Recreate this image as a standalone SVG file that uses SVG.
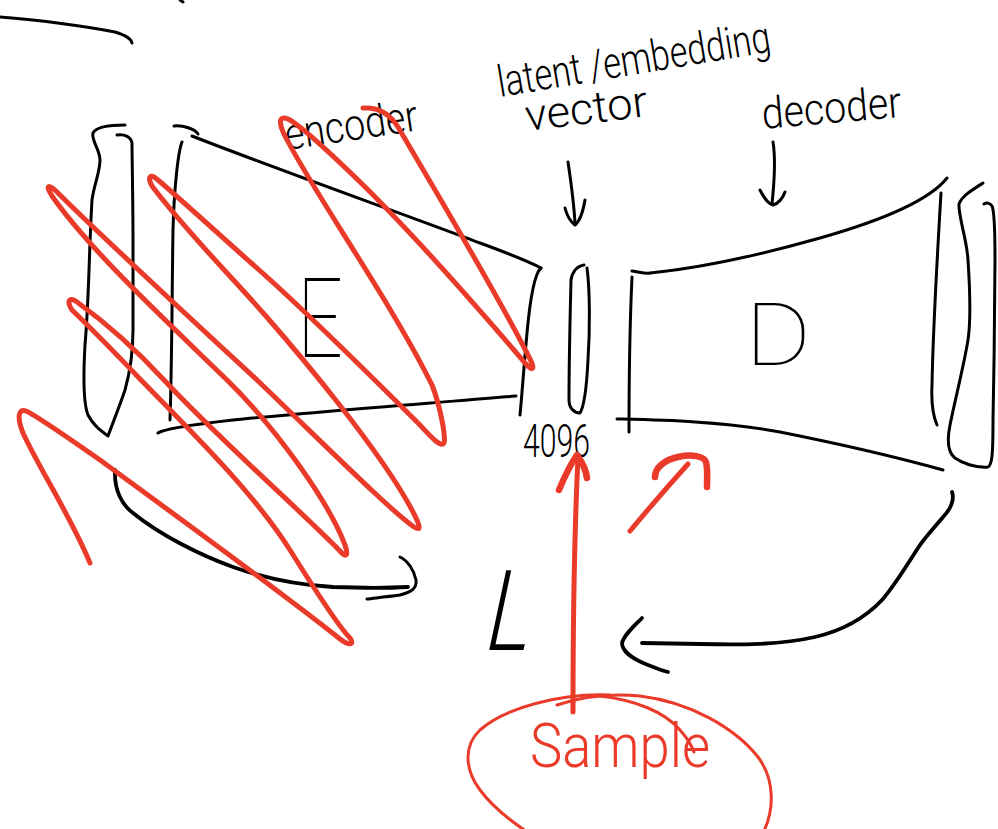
<svg xmlns="http://www.w3.org/2000/svg" width="998" height="829" viewBox="0 0 998 829">
  <style>
    .ink { fill: none; stroke: #000; stroke-width: 3; stroke-linecap: round; stroke-linejoin: round; }
    .ink-thick { fill: none; stroke: #000; stroke-width: 3.8; stroke-linecap: round; stroke-linejoin: round; }
    .red { fill: none; stroke: #ea3a29; stroke-width: 5; stroke-linecap: round; stroke-linejoin: round; }
    .red-head { fill: none; stroke: #ea3a29; stroke-width: 6.5; stroke-linecap: round; stroke-linejoin: round; }
    .red-thin { fill: none; stroke: #ea3a29; stroke-width: 3; stroke-linecap: round; stroke-linejoin: round; }
    .hand { font-family: Roboto, "Liberation Sans", sans-serif; fill: #000; }
    .thin { font-weight: 100; }
    .light { font-weight: 300; }
  </style>
  <rect width="998" height="829" fill="#fff"/>

  <!-- stray strokes at the top left -->
  <g id="stray">
    <path class="ink" d="M0,17 C40,20 90,27 115,32 C125,35 131,38 132,43"/>
    <path class="ink" d="M180,0 L183,2"/>
  </g>

  <!-- encoder block: input slab and trapezoid -->
  <g id="encoder">
    <path class="ink" d="M125,125 C110,125 96,127 93,133 C91,140 100,150 100,160 C100,172 94,185 92,200 C89,250 89,300 85,345 C83,380 84,405 88,415 C93,425 100,430 108,436 C112,425 120,405 125,390 C130,372 133,355 133,330 L133,240 C133,200 132,160 132,143 C131,137 125,134 117,135"/>
    <path class="ink" d="M174,126 C183,125 195,129 198,134"/>
    <path class="ink" d="M182,142 C178,152 174,190 173,230 C172,290 172,360 170,420"/>
    <path class="ink" d="M192,136 C260,163 420,220 480,243 C510,254 530,262 541,268"/>
    <path class="ink" d="M541,268 C534,274 530,300 527,333 C524,365 522,395 520,415"/>
    <path class="ink" d="M158,433 C162,430 180,426 233,420 C300,413 420,404 516,396"/>
    <text class="hand thin" x="297" y="357" font-size="112" textLength="46" lengthAdjust="spacingAndGlyphs">E</text>
  </g>

  <!-- latent / embedding vector -->
  <g id="latent">
    <path class="ink" d="M584,265 C577,266 572,272 571,280 C570,320 569,370 569,400 C569,408 574,413 580,413 C585,405 587,380 588,360 C590,330 590,290 587,268"/>
    <text class="hand light" x="523" y="457" font-size="46" textLength="67" lengthAdjust="spacingAndGlyphs">4096</text>
  </g>

  <!-- decoder block: trapezoid and output slab -->
  <g id="decoder">
    <path class="ink" d="M632,271 C640,272 645,274 650,273 C700,268 760,255 820,238 C880,221 928,202 947,178"/>
    <path class="ink" d="M632,277 C630,320 629,380 629,432"/>
    <path class="ink" d="M617,419 C660,420 720,421 780,432 C840,444 900,458 943,470"/>
    <path class="ink" d="M941,193 C937,260 933,330 932,385 C931,405 934,418 937,425"/>
    <path class="ink" d="M983,183 C972,190 962,196 959,204 C958,215 967,240 968,260 C970,290 971,320 968,340 C964,365 955,400 950,425 C947,440 947,452 955,458 C962,463 975,468 988,467 C992,465 993,455 993,420 C994,370 995,300 995,260 C995,235 994,210 992,206 C990,203 986,202 984,204"/>
    <text class="hand thin" x="745" y="365" font-size="87" textLength="66" lengthAdjust="spacingAndGlyphs">D</text>
  </g>

  <!-- labels with pointer arrows -->
  <g id="labels">
    <text class="hand light" x="287" y="150" font-size="44" textLength="134" lengthAdjust="spacingAndGlyphs" transform="rotate(-8.5 287 150)">encoder</text>
    <text class="hand light" x="500" y="97" font-size="44" textLength="276" lengthAdjust="spacingAndGlyphs" transform="rotate(-9.5 500 97)">latent /embedding</text>
    <text class="hand light" x="527" y="131" font-size="44" textLength="123" lengthAdjust="spacingAndGlyphs" transform="rotate(-7 527 131)">vector</text>
    <text class="hand light" x="763" y="129" font-size="44" textLength="140" lengthAdjust="spacingAndGlyphs" transform="rotate(-5 763 129)">decoder</text>
  </g>

  <g id="connectors">
    <!-- label pointers -->
    <path class="ink" d="M568,162 C571,182 574,203 575,224"/>
    <path class="ink" d="M565,208 C567,216 571,222 575,225 C580,221 583,212 585,200"/>
    <path class="ink" d="M773,142 C776,160 774,185 772,204"/>
    <path class="ink" d="M760,190 C764,198 769,204 773,205 C778,204 783,198 785,192"/>
    <!-- reconstruction loss arrows -->
    <path class="ink-thick" d="M115,470 C114,490 122,505 133,513 C160,535 200,555 233,567 C270,580 300,585 333,587 C360,588 390,588 408,587"/>
    <path class="ink" d="M400,557 C408,561 414,570 416,580 C417,588 412,592 400,595 C385,597 375,598 367,599"/>
    <path class="ink-thick" d="M952,492 C955,500 950,510 943,517 C935,527 925,537 918,548 C905,568 895,585 882,600 C865,618 845,630 815,637 C780,645 740,645 700,644 L642,643"/>
    <path class="ink-thick" d="M642,618 C633,627 624,635 622,643 C622,652 635,660 648,665 C658,669 664,671 668,672"/>
  </g>

  <!-- loss symbol -->
  <g id="loss">
    <text class="hand light" x="482" y="650" font-size="112" textLength="44" lengthAdjust="spacingAndGlyphs" transform="skewX(-12) translate(138 0)">L</text>
  </g>

  <!-- red annotations: scribble over encoder, sampling -->
  <g id="scribble">
    <path class="red" d="M363,108 C379,107 390,114 398,127 C432,185 495,290 529,357 C535,368 534,373 526,364 C490,322 420,240 358,180 C325,148 300,125 288,119 C278,115 279,124 285,136 C315,195 390,300 432,385 C440,405 446,437 444,443 C441,448 432,438 420,425 C395,400 300,305 250,262 C210,226 170,190 158,180 C150,173 147,177 152,186 C185,230 230,275 265,315 C300,355 380,450 412,510 C420,525 422,532 414,527 C390,510 330,450 257,380 C190,318 100,235 58,193 C48,183 45,185 52,196 C90,250 160,315 227,380 C280,432 330,505 345,545 C349,556 346,558 340,551 C300,510 220,440 164,380 C130,343 95,315 77,302 C68,296 67,302 72,310 C95,332 120,358 141,380 C200,440 255,495 290,550 C315,590 340,628 350,638 C355,645 349,646 340,639 C300,607 200,533 100,460 C60,432 35,415 26,411 C18,408 17,418 23,433 C40,470 70,515 90,563"/>
  </g>

  <g id="sample">
    <path class="red" d="M573,712 C573,620 575,520 578,457"/>
    <path class="red-head" d="M559,490 C564,478 570,465 577,455 C582,462 586,470 587,478"/>
    <path class="red" d="M630,531 C650,507 670,484 688,464"/>
    <path class="red-head" d="M655,477 C655,468 664,460 678,457 C692,454 704,456 706,462 C708,470 707,480 707,487"/>
    <path class="red-thin" d="M557,705 C580,697 610,693 640,696 C690,702 735,728 758,757 C775,780 775,810 762,835"/>
    <path class="red-thin" d="M610,695 C560,693 505,708 480,730 C463,746 465,770 480,790 C495,810 515,825 540,840"/>
    <path class="red-thin" d="M600,696 C635,700 665,712 680,730 C687,738 692,746 694,752"/>
    <text x="530" y="767" font-family="Roboto, 'Liberation Sans', sans-serif" font-weight="300" font-size="62" fill="#ea3a29" textLength="180" lengthAdjust="spacingAndGlyphs">Sample</text>
  </g>
</svg>
